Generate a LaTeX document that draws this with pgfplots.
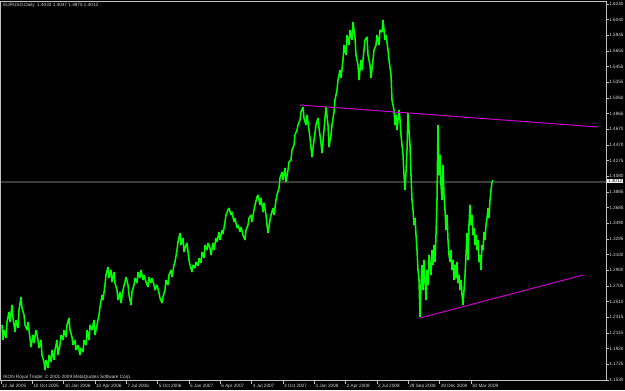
\documentclass[border=0pt]{standalone}
\usepackage{pgfplots}
\pgfplotsset{compat=1.18}
\usepackage{fontspec}
\setmainfont{Liberation Sans}
\newfontfamily\mt{Liberation Sans}
\definecolor{mtgreen}{RGB}{0,255,0}
\definecolor{mtmag}{RGB}{200,0,200}
\definecolor{mtgray}{RGB}{192,192,192}
\definecolor{mtline}{RGB}{60,60,60}
\definecolor{mttext}{RGB}{215,215,215}
\newcommand\tinyfont{\mt\fontsize{3.5}{4}\selectfont}
\begin{document}
\begin{tikzpicture}
\useasboundingbox (0,0) rectangle (468.75pt,292.5pt);
\fill[black] (0,0) rectangle (468.75pt,292.5pt);
\begin{axis}[
  at={(0.375pt,291.525pt)}, anchor=north west,
  scale only axis, width=454.125pt, height=284.55pt,
  xmin=0.5, xmax=606, ymin=1.15211, ymax=1.62738,
  axis line style={draw=mtgray, line width=0.6pt},
  tick style={draw=mtgray, line width=0.5pt},
  tick align=outside, major tick length=2.25pt,
  xtick pos=left, ytick pos=right, yticklabel pos=right,
  xtick={1,32.3,63.7,95,126.3,157.7,189,220.3,251.7,283,314.3,345.7,377,408.3,439.7,471},
  xticklabels={12 Jul 2005,10 Oct 2005,10 Jan 2006,10 Apr 2006,7 Jul 2006,5 Oct 2006,5 Jan 2007,6 Apr 2007,4 Jul 2007,3 Oct 2007,3 Jan 2008,2 Apr 2008,2 Jul 2008,29 Sep 2008,29 Dec 2008,30 Mar 2009},
  ytick={1.6240,1.604375,1.58475,1.565125,1.5455,1.525875,1.50625,1.486625,1.467,1.447375,1.42775,1.408125,1.3885,1.368875,1.34925,1.329625,1.31,1.290375,1.27075,1.251125,1.2315,1.211875,1.19225,1.172625,1.153},
  yticklabels={1.6240,1.6040,1.5845,1.5650,1.5455,1.5255,1.5060,1.4865,1.4670,1.4470,1.4275,1.4080,1.3885,1.3685,1.3490,1.3295,1.3100,1.2900,1.2705,1.2510,1.2315,1.2115,1.1920,1.1725,1.1530},
  xticklabel style={font=\tinyfont, text=mttext, anchor=north west, inner sep=0pt, xshift=0.6pt},
  yticklabel style={font=\tinyfont, text=mttext, anchor=west, inner sep=0pt},
  clip=true,
]
% current price line
\addplot[mtline, line width=1pt] coordinates {(0.5,1.4012) (606,1.4012)};
% price bars (high/low trace)
\addplot[mtgreen, line width=1.15pt, line join=bevel] table {
x p
2 1.2219
3 1.2031
4 1.2156
6 1.2056
7 1.2256
9 1.2382
10 1.2256
12 1.2469
13 1.2307
15 1.2131
16 1.2282
18 1.2181
19 1.2407
21 1.2570
22 1.2432
24 1.2344
25 1.2219
27 1.2156
28 1.2256
30 1.2056
31 1.1943
33 1.2094
34 1.1993
36 1.2156
38 1.2031
39 1.1931
41 1.2031
42 1.1843
44 1.1755
45 1.1655
46 1.1780
48 1.1680
49 1.1843
51 1.1755
52 1.1906
54 1.1780
55 1.1906
57 1.2031
58 1.1843
60 1.1968
61 1.2094
63 1.2031
64 1.2156
66 1.2069
67 1.2219
69 1.2307
70 1.2156
72 1.2069
73 1.1968
75 1.2031
76 1.1906
78 1.1968
80 1.1843
81 1.1931
83 1.1881
84 1.2031
86 1.1968
87 1.2156
89 1.2031
90 1.2219
92 1.2156
94 1.2282
95 1.2094
97 1.2219
99 1.2344
100 1.2444
102 1.2595
103 1.2532
105 1.2720
106 1.2845
108 1.2945
109 1.2808
111 1.2908
112 1.2758
114 1.2883
115 1.2745
117 1.2657
118 1.2532
120 1.2632
121 1.2494
123 1.2657
125 1.2758
126 1.2820
128 1.2720
129 1.2595
131 1.2469
132 1.2632
134 1.2720
135 1.2808
137 1.2745
138 1.2883
140 1.2808
141 1.2908
143 1.2783
144 1.2845
146 1.2758
148 1.2695
149 1.2820
151 1.2745
152 1.2808
154 1.2720
155 1.2657
157 1.2720
159 1.2620
160 1.2557
162 1.2494
163 1.2570
165 1.2657
166 1.2783
168 1.2720
169 1.2845
171 1.2908
172 1.2820
174 1.2971
175 1.3008
177 1.3158
178 1.3259
180 1.3371
181 1.3221
183 1.3309
184 1.3133
186 1.3221
187 1.3246
189 1.3033
190 1.2971
192 1.2883
193 1.2971
195 1.2933
196 1.3008
198 1.2958
199 1.3058
201 1.2996
202 1.3133
204 1.3058
205 1.3221
207 1.3158
208 1.3246
210 1.3183
211 1.3096
213 1.3246
214 1.3158
216 1.3309
217 1.3259
219 1.3384
220 1.3284
222 1.3409
223 1.3359
225 1.3509
226 1.3597
228 1.3659
229 1.3685
231 1.3597
232 1.3634
234 1.3509
235 1.3559
237 1.3434
238 1.3472
240 1.3384
241 1.3447
243 1.3346
245 1.3284
246 1.3409
248 1.3472
249 1.3559
251 1.3597
252 1.3509
254 1.3659
255 1.3722
257 1.3822
258 1.3847
260 1.3722
261 1.3810
263 1.3634
264 1.3747
266 1.3597
267 1.3472
268 1.3371
270 1.3534
271 1.3597
273 1.3685
274 1.3597
276 1.3785
277 1.3847
279 1.3935
280 1.4060
282 1.4135
283 1.4035
285 1.4186
286 1.4010
288 1.4161
289 1.4261
291 1.4286
292 1.4411
294 1.4474
295 1.4599
297 1.4662
298 1.4724
300 1.4787
301 1.4887
303 1.4950
304 1.4812
306 1.4724
307 1.4850
309 1.4662
310 1.4561
312 1.4323
313 1.4436
315 1.4624
316 1.4724
318 1.4812
319 1.4687
321 1.4499
322 1.4374
324 1.4662
325 1.4812
326 1.4950
328 1.4724
329 1.4449
331 1.4599
332 1.4724
334 1.4887
335 1.5037
337 1.5163
338 1.5288
340 1.5413
341 1.5313
343 1.5539
344 1.5726
346 1.5601
347 1.5852
349 1.5726
350 1.5914
352 1.5789
353 1.6015
355 1.5814
356 1.5601
358 1.5476
359 1.5288
361 1.5539
362 1.5413
364 1.5664
365 1.5789
367 1.5827
368 1.5601
370 1.5476
371 1.5313
373 1.5539
374 1.5664
376 1.5726
377 1.5852
379 1.5726
380 1.5914
382 1.5889
383 1.6040
385 1.5789
386 1.5852
388 1.5664
389 1.5539
391 1.5351
392 1.5037
394 1.4912
395 1.4724
396 1.4850
397 1.4662
399 1.4912
400 1.4787
401 1.4599
403 1.4349
404 1.4098
405 1.3910
406 1.4135
407 1.4411
408 1.4875
409 1.4662
410 1.4474
411 1.4098
412 1.3785
413 1.3659
414 1.3472
415 1.3559
416 1.3346
417 1.3158
418 1.2908
419 1.2783
420 1.2319
421 1.2720
422 1.2971
423 1.2657
424 1.3033
425 1.2783
426 1.2532
427 1.2908
428 1.2720
429 1.3096
431 1.2845
432 1.3158
433 1.2971
434 1.3221
435 1.3008
436 1.3346
437 1.3785
438 1.4724
439 1.4098
440 1.4349
441 1.3973
442 1.3785
443 1.4223
444 1.3847
445 1.3659
446 1.3409
447 1.3597
448 1.3284
449 1.3096
450 1.3008
451 1.3158
452 1.2908
453 1.3033
454 1.2783
455 1.2971
456 1.2808
457 1.3008
458 1.2745
459 1.2845
460 1.2657
461 1.2783
462 1.2595
463 1.2469
464 1.2657
465 1.2845
466 1.3096
467 1.3371
468 1.3033
469 1.3472
470 1.3722
471 1.3472
472 1.3597
473 1.3346
474 1.3434
475 1.3221
476 1.3346
477 1.3158
478 1.3284
479 1.3008
480 1.3096
481 1.2908
482 1.3221
483 1.3158
484 1.3384
485 1.3284
486 1.3472
487 1.3559
488 1.3685
489 1.3559
490 1.3785
491 1.3910
492 1.4010
493 1.4035
};
% trend lines
\addplot[mtmag, line width=0.75pt] coordinates {(300,1.4975) (598,1.4699)};
\addplot[mtmag, line width=0.75pt] coordinates {(420,1.2307) (583,1.2845)};
\end{axis}
% price box
\node[fill=white, text=black, font=\tinyfont, inner sep=0.6pt, anchor=west] at (455.2pt,156.75pt) {1.4012};
% texts
\node[text=mttext, font=\tinyfont, inner sep=0pt, anchor=west] at (2.25pt,288.6pt) {EURUSD,Daily\ \ 1.4033 1.4047 1.3975 1.4012};
\node[text=mttext, font=\tinyfont, inner sep=0pt, anchor=west] at (2.25pt,9.4pt) {IKON Royal Trader, © 2001-2009 MetaQuotes Software Corp.};
\end{tikzpicture}
\end{document}
